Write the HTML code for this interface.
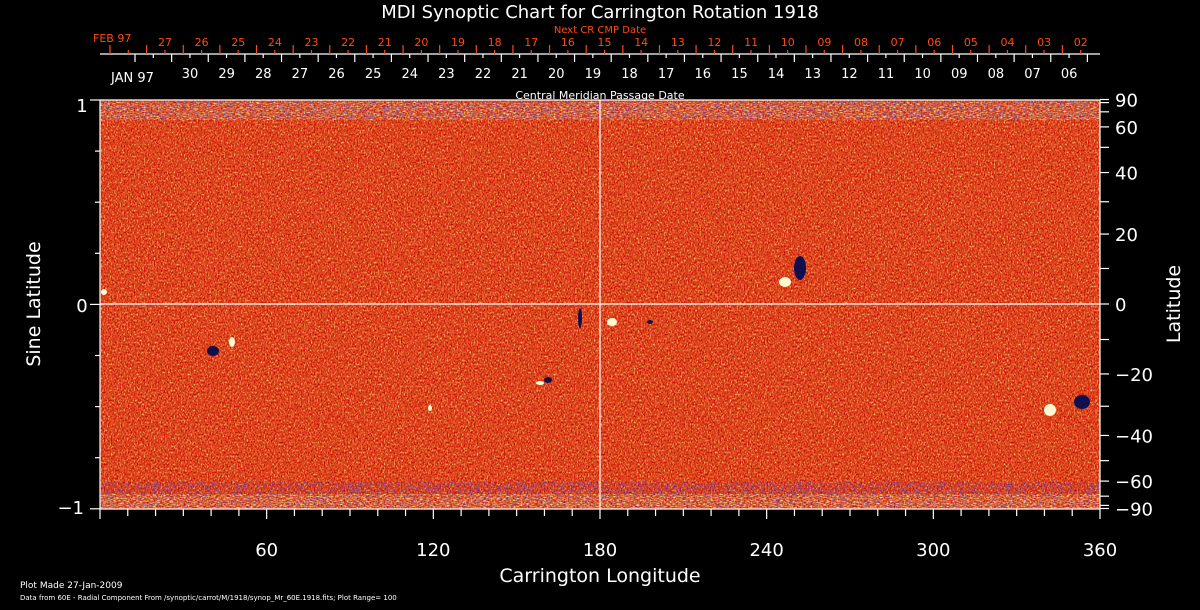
<!DOCTYPE html>
<html><head><meta charset="utf-8"><style>
html,body{margin:0;padding:0;background:#000;}
svg{display:block;font-family:"DejaVu Sans","Liberation Sans",sans-serif;}
</style></head><body>
<svg id="s" width="1200" height="610" viewBox="0 0 1200 610" xmlns="http://www.w3.org/2000/svg">
<defs>
<filter id="n1" x="0" y="0" width="100%" height="100%">
<feTurbulence type="fractalNoise" baseFrequency="0.7 0.5" numOctaves="2" seed="3"/>
<feColorMatrix type="matrix" values="0 0 0 0 1  0 0 0 0 0.6  0 0 0 0 0.2  2.6 0 0 0 -1.2"/>
</filter>
<filter id="n2" x="0" y="0" width="100%" height="100%">
<feTurbulence type="fractalNoise" baseFrequency="0.7 0.5" numOctaves="2" seed="9"/>
<feColorMatrix type="matrix" values="0 0 0 0 0.5  0 0 0 0 0.0  0 0 0 0 0.0  3 0 0 0 -1.35"/>
</filter>
<filter id="n3" x="0" y="0" width="100%" height="100%">
<feTurbulence type="fractalNoise" baseFrequency="0.3 1.2" numOctaves="1" seed="5"/>
<feColorMatrix type="matrix" values="0 0 0 0 0.05  0 0 0 0 0.05  0 0 0 0 0.7  3 0 0 0 -1.5"/>
</filter>
<filter id="n4" x="0" y="0" width="100%" height="100%">
<feTurbulence type="fractalNoise" baseFrequency="0.3 1.2" numOctaves="1" seed="7"/>
<feColorMatrix type="matrix" values="0 0 0 0 1  0 0 0 0 1  0 0 0 0 0.3  3 0 0 0 -1.4"/>
</filter>
</defs>
<rect x="100" y="100" width="1000" height="409" fill="#e04418"/>
<rect x="100" y="100" width="1000" height="409" filter="url(#n1)"/>
<rect x="100" y="100" width="1000" height="409" filter="url(#n2)"/>
<rect x="100" y="102" width="1000" height="18" filter="url(#n4)"/>
<rect x="100" y="102" width="1000" height="18" filter="url(#n3)"/>
<rect x="100" y="482" width="1000" height="26" filter="url(#n3)"/>
<rect x="100" y="494" width="1000" height="14" filter="url(#n4)"/>
<g fill="#101050">
<ellipse cx="213" cy="351" rx="6" ry="5"/>
<ellipse cx="800" cy="268" rx="6" ry="12"/>
<ellipse cx="1082" cy="402" rx="8" ry="7"/>
<ellipse cx="548" cy="380" rx="4" ry="3"/>
<ellipse cx="650" cy="322" rx="3" ry="2"/>
<ellipse cx="580" cy="318" rx="2" ry="10"/>
</g>
<g fill="#fff8d0">
<ellipse cx="232" cy="342" rx="3" ry="5"/>
<ellipse cx="1050" cy="410" rx="6" ry="6"/>
<ellipse cx="540" cy="383" rx="4" ry="2"/>
<ellipse cx="430" cy="408" rx="2" ry="3"/>
<ellipse cx="104" cy="292" rx="3" ry="3"/>
<ellipse cx="612" cy="322" rx="5" ry="4"/>
<ellipse cx="785" cy="282" rx="6" ry="5"/>
</g>
<g id="ax" stroke="#fff" stroke-width="1.2" fill="none"></g>
<g id="tx" fill="#fff"></g>
<text x="600" y="18" text-anchor="middle" font-size="18" fill="#fff">MDI Synoptic Chart for Carrington Rotation 1918</text>
<text x="600" y="33" text-anchor="middle" font-size="10" fill="#ff4a10">Next CR CMP Date</text>
<text x="600" y="99" text-anchor="middle" font-size="11" fill="#fff">Central Meridian Passage Date</text>
<text x="600" y="582" text-anchor="middle" font-size="19" fill="#fff">Carrington Longitude</text>
<text transform="translate(40,304) rotate(-90)" text-anchor="middle" font-size="19" fill="#fff">Sine Latitude</text>
<text transform="translate(1180,304) rotate(-90)" text-anchor="middle" font-size="19" fill="#fff">Latitude</text>
<text x="20" y="588" font-size="9" fill="#fff">Plot Made 27-Jan-2009</text>
<text x="20" y="600" font-size="7" fill="#fff">Data from 60E - Radial Component From /synoptic/carrot/M/1918/synop_Mr_60E.1918.fits; Plot Range=  100</text>
</svg>
<script>
var ax=document.getElementById('ax'),tx=document.getElementById('tx'),NS='http://www.w3.org/2000/svg';
function L(x1,y1,x2,y2,c){var e=document.createElementNS(NS,'line');e.setAttribute('x1',x1);e.setAttribute('y1',y1);e.setAttribute('x2',x2);e.setAttribute('y2',y2);if(c)e.setAttribute('stroke',c);ax.appendChild(e);}
function T(x,y,s,sz,c,a){var e=document.createElementNS(NS,'text');e.setAttribute('x',x);e.setAttribute('y',y);e.setAttribute('font-size',sz);e.setAttribute('fill',c||'#fff');e.setAttribute('text-anchor',a||'middle');e.textContent=s;tx.appendChild(e);}
L(100,100,1100,100);L(100,100,100,509);L(100,509,1100,509);L(1100,100,1100,509);
L(600,100,600,509);L(100,304,1100,304);
for(var i=0;i<=8;i++){var y=100+i*51.1;L(i%4==0?90:100,y,i%4==0?100:95,y);}
T(82,112,'1',18);T(82,312,'0',18);T(84,514,'\u22121',18,null,'end');
for(var d=0;d<=36;d++){var x=100+d*1000/36;L(x,509,x,d%6==0?519:516);}
for(var k=1;k<=6;k++)T(100+k*1000/6,556,String(k*60),18);
[80,70,60,50,40,30,20,10,0,-10,-20,-30,-40,-50,-60,-70,-80,-90,90].forEach(function(l){var y=304-Math.sin(l*Math.PI/180)*204.5;L(1100,y,1109,y);});
[90,60,40,20,0,-20,-40,-60,-90].forEach(function(l){var y=304-Math.sin(l*Math.PI/180)*204.5;T(1115,y+7,(l<0?'\u2212':'')+Math.abs(l),18,null,'start');});
L(100,54,1100,54);
var sp=36.63;
for(var i=0;i<27;i++){var x=110+i*sp;if(x<=1100)L(x,45,x,54,'#ff4a10');var xm=x+18.3;if(xm<1100)L(xm,50,xm,54,'#ff4a10');}
var r=['27','26','25','24','23','22','21','20','19','18','17','16','15','14','13','12','11','10','09','08','07','06','05','04','03','02'];
r.forEach(function(s,i){T(165+i*sp,46,s,11,'#ff4a10');});
T(93,42,'FEB 97',11,'#ff4a10','start');
for(var i=0;i<27;i++){var x=135+i*sp;if(x<=1100)L(x,54,x,62);var xm=x+18.3;if(xm<1100)L(xm,54,xm,58);}
var w=['30','29','28','27','26','25','24','23','22','21','20','19','18','17','16','15','14','13','12','11','10','09','08','07','06'];
w.forEach(function(s,i){T(190+i*sp,78,s,13);});
T(111,82,'JAN 97',13,null,'start');
</script>
</body></html>
